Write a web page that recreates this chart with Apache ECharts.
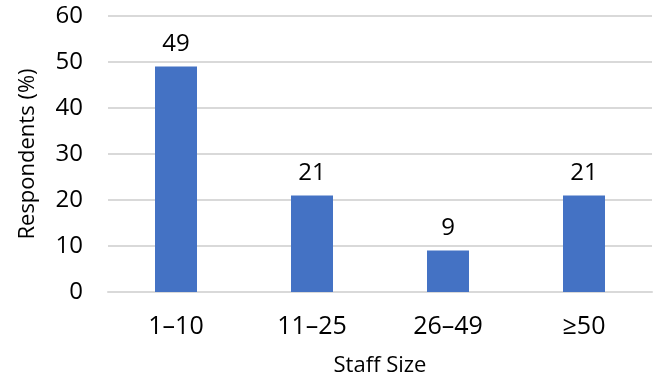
<!DOCTYPE html>
<html>
<head>
<meta charset="utf-8">
<script src="https://cdn.jsdelivr.net/npm/echarts@6/dist/echarts.min.js"></script>
<style>
  html, body { margin: 0; padding: 0; background: #fff; }
  #chart { width: 654px; height: 382px; }
</style>
</head>
<body>
<div id="chart"></div>
<script>
// data
var categories = ['1\u201310', '11\u201325', '26\u201349', '\u226550'];
var respondents = [49, 21, 9, 21];
var yTicks = { min: 0, max: 60, step: 10 };

var font = 'Open Sans';
var chart = echarts.init(document.getElementById('chart'));
chart.setOption({
  animation: false,
  grid: { left: 108, right: 2, top: 16, bottom: 90, outerBoundsMode: 'none', containLabel: false },
  xAxis: {
    type: 'category',
    data: categories,
    name: 'Staff Size',
    nameLocation: 'middle',
    nameGap: 63,
    nameTextStyle: { fontFamily: font, fontSize: 22, color: '#000' },
    axisLine: { show: true, lineStyle: { color: '#d9d9d9', width: 2 } },
    axisTick: { show: false },
    axisLabel: { fontFamily: font, fontSize: 25, color: '#000', margin: 22 }
  },
  yAxis: {
    type: 'value',
    min: yTicks.min,
    max: yTicks.max,
    interval: yTicks.step,
    name: 'Respondents (%)',
    nameLocation: 'middle',
    nameGap: 69,
    nameTextStyle: { fontFamily: font, fontSize: 22, color: '#000' },
    axisLine: { show: false },
    axisTick: { show: false },
    axisLabel: { fontFamily: font, fontSize: 24, color: '#000', margin: 25 },
    splitLine: { lineStyle: { color: '#d9d9d9', width: 2 } }
  },
  series: [{
    type: 'bar',
    data: respondents,
    barWidth: 42,
    itemStyle: { color: '#4472C4' },
    label: {
      show: true,
      position: 'top',
      distance: 10,
      fontFamily: font,
      fontSize: 24,
      color: '#000'
    }
  }]
});
</script>
</body>
</html>
